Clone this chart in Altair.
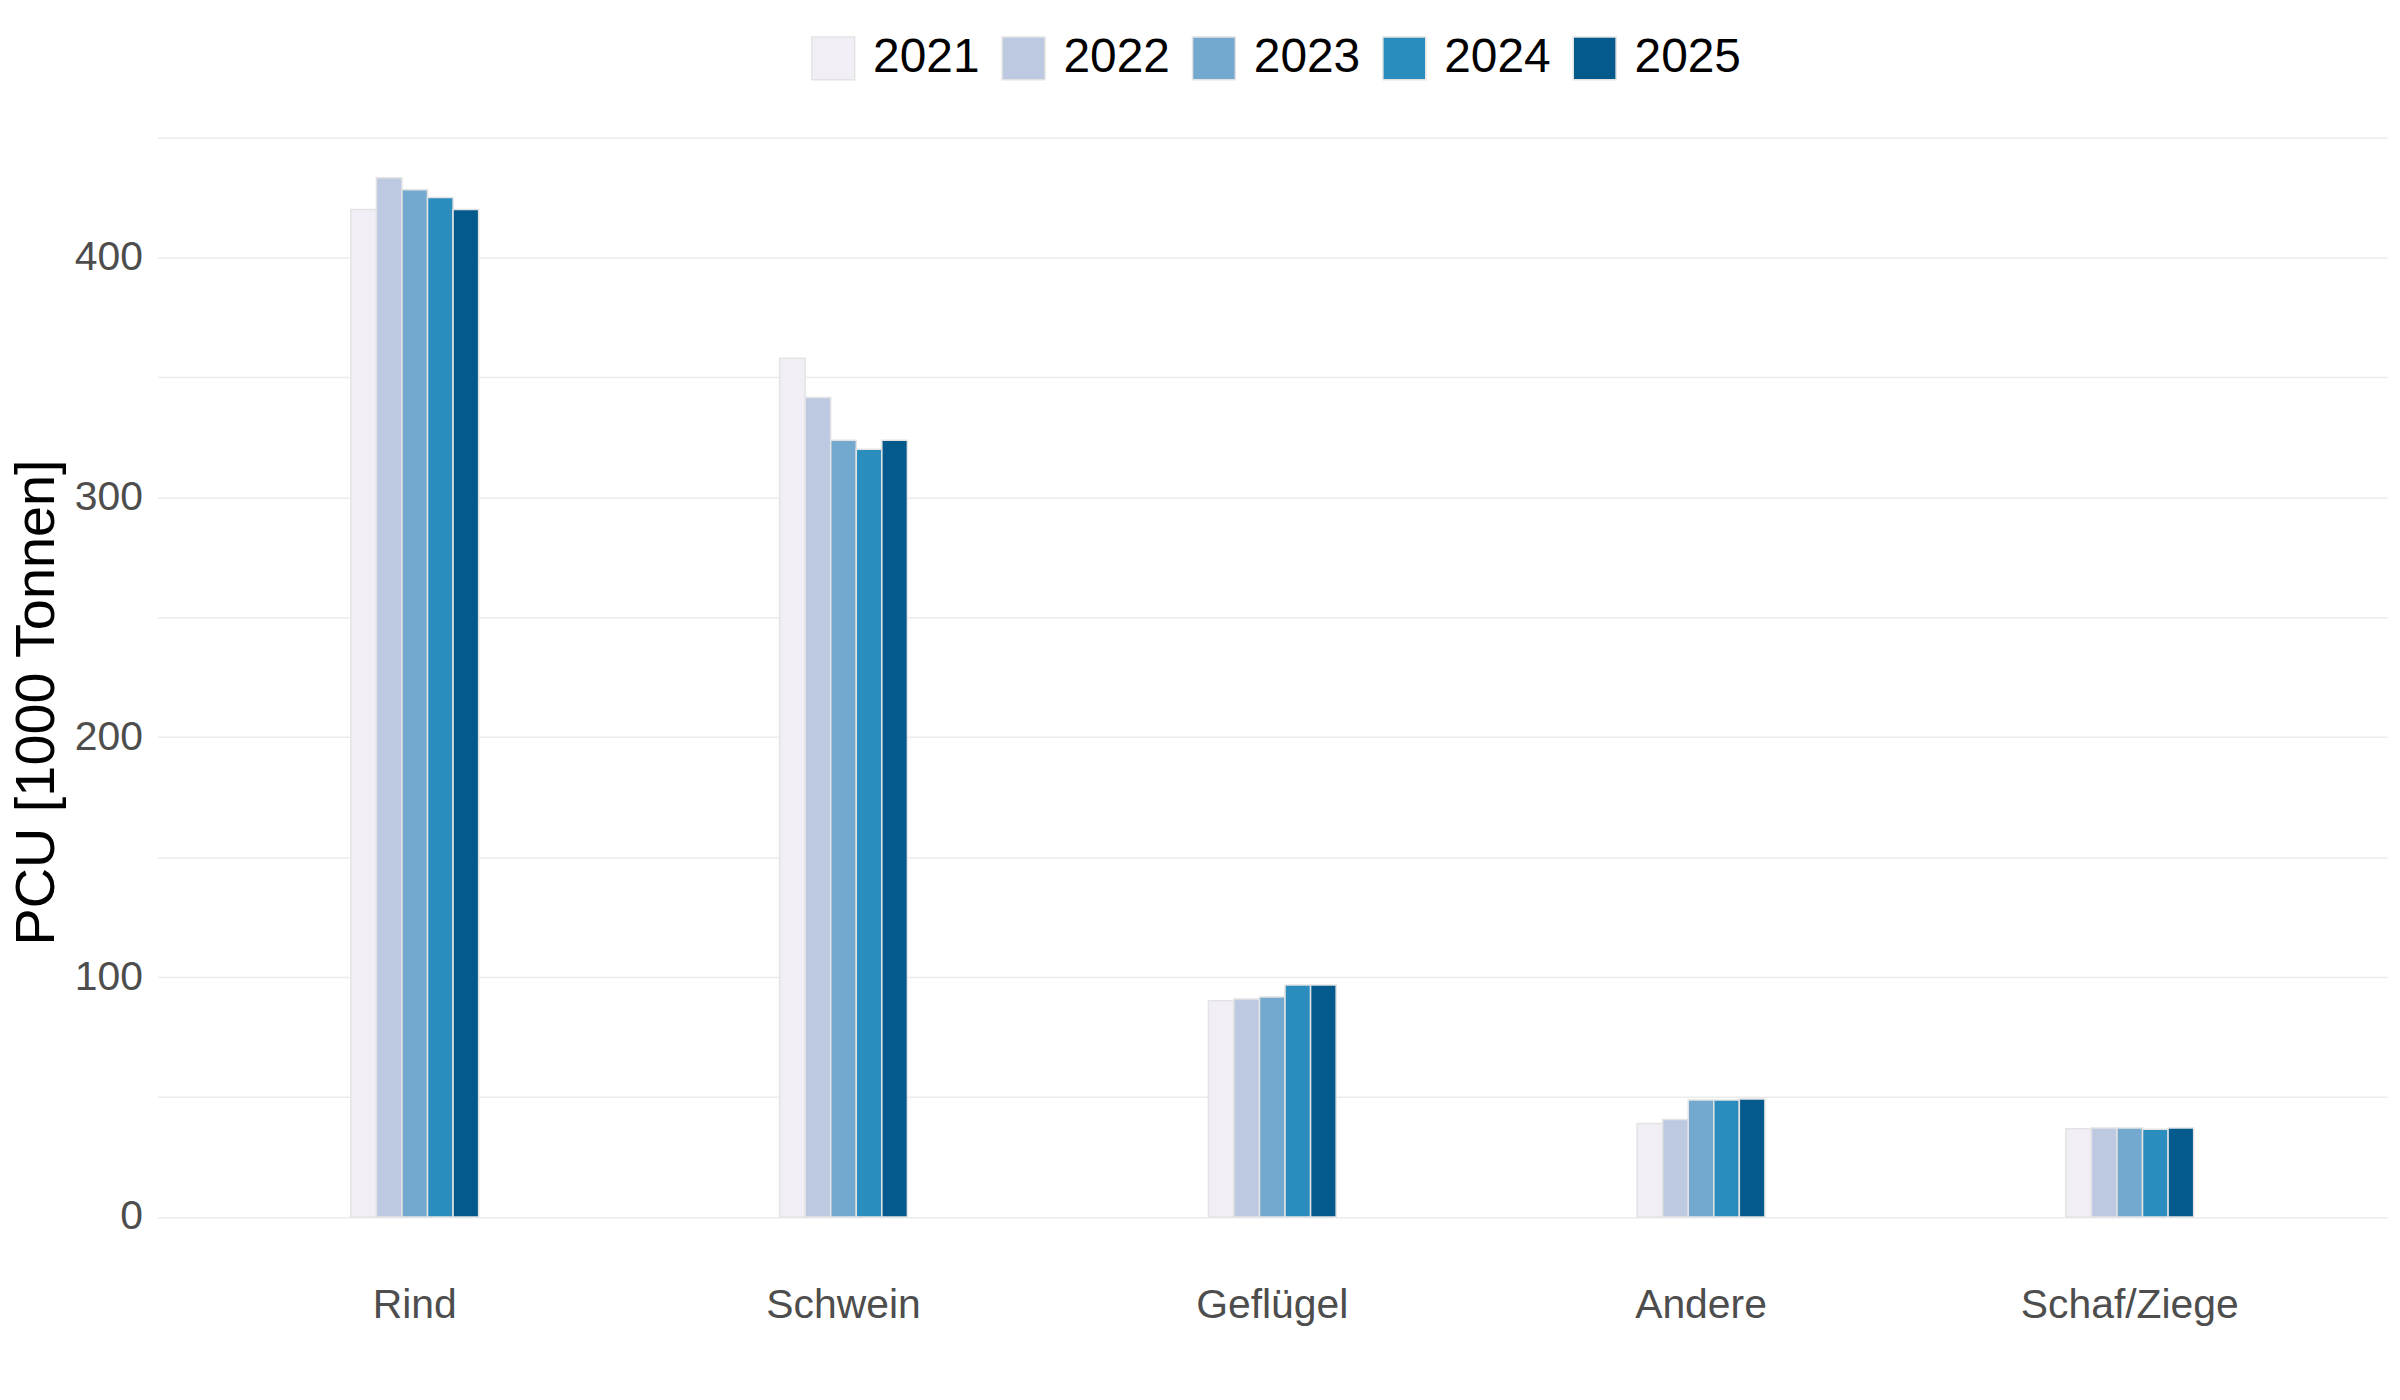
import altair as alt
import pandas as pd

# values (1000 t PCU)
categories = ["Rind", "Schwein", "Geflügel", "Andere", "Schaf/Ziege"]
years = ["2021", "2022", "2023", "2024", "2025"]
v2021 = [420.0, 358.0, 90.2, 39.0, 36.8]
v2022 = [433.3, 341.6, 90.9, 40.6, 37.1]
v2023 = [428.2, 323.8, 91.7, 48.8, 37.1]
v2024 = [425.0, 320.1, 96.7, 48.8, 36.6]
v2025 = [420.0, 323.8, 96.7, 49.2, 37.1]
colors = ["#f1eef6", "#bdc9e1", "#74a9cf", "#2b8cbe", "#045a8d"]

series = [v2021, v2022, v2023, v2024, v2025]
rows = []
for year, vals in zip(years, series):
    for cat, v in zip(categories, vals):
        rows.append({"kategorie": cat, "jahr": year, "pcu": v})
df = pd.DataFrame(rows)

FONT = "Liberation Sans"

bars = alt.Chart(df).mark_bar(stroke="#e3e3e3", strokeWidth=1.5).encode(
    x=alt.X("kategorie:N", sort=categories, title=None,
            scale=alt.Scale(paddingInner=0.702, paddingOuter=0.451),
            axis=alt.Axis(labelAngle=0, labelFontSize=41, labelColor="#4d4d4d",
                          labelPadding=17, labelLimit=0,
                          ticks=False, domain=False, grid=False)),
    xOffset=alt.XOffset("jahr:N", sort=years, scale=alt.Scale(paddingInner=0, paddingOuter=0)),
    y=alt.Y("pcu:Q", stack=None, title="PCU [1000 Tonnen]",
            scale=alt.Scale(domain=[-21.7, 455.7], nice=False, zero=False),
            axis=alt.Axis(values=list(range(0, 451, 50)),
                          labelExpr="datum.value % 100 == 0 ? datum.label : ''",
                          labelFontSize=41, labelColor="#4d4d4d", labelPadding=15,
                          ticks=False, domain=False,
                          gridColor="#ebebeb", gridWidth=1.5,
                          titleFontSize=56, titleFontWeight="normal", titleColor="black",
                          titleX=-121, titleY=580, titleBaseline="middle")),
    color=alt.Color("jahr:N", sort=years, title=None,
                    scale=alt.Scale(domain=years, range=colors),
                    legend=alt.Legend(orient="none", direction="horizontal",
                                      legendX=654, legendY=-90,
                                      symbolType="square", symbolSize=1849,
                                      symbolStrokeColor="#e3e3e3", symbolStrokeWidth=1.5,
                                      symbolOpacity=1,
                                      labelFontSize=48, labelColor="black",
                                      labelOffset=16, columnPadding=19)),
).properties(
    width=2237,
    height=1149,
    autosize=alt.AutoSizeParams(type="none"),
    padding={"left": 150, "top": 114, "right": 5, "bottom": 100},
).configure(
    font=FONT
).configure_view(
    stroke=None
)

chart = bars
chart.save("out.html", embed_options={"renderer": "svg", "actions": False})
